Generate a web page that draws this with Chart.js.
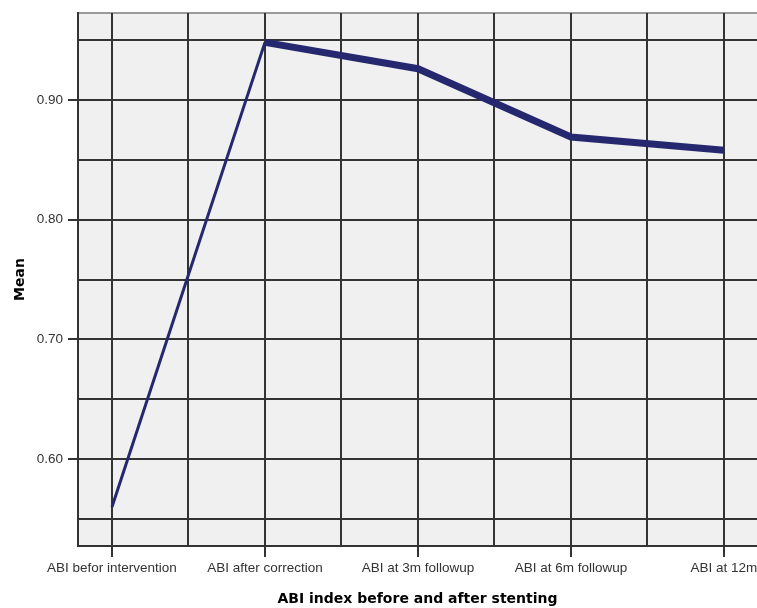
<!DOCTYPE html>
<html>
<head>
<meta charset="utf-8">
<script src="https://cdn.jsdelivr.net/npm/chart.js@4"></script>
<style>
  body { margin: 0; background: #fff; }
  #wrap { width: 757px; height: 608px; }
</style>
</head>
<body>
<div id="wrap"><canvas id="myChart" width="757" height="608"></canvas></div>
<script>
const categories = ['ABI befor intervention', 'ABI after correction', 'ABI at 3m followup', 'ABI at 6m followup', 'ABI at 12m'];
const meanValues = [0.56, 0.948, 0.926, 0.869, 0.858];
const yTickValues = [0.55, 0.60, 0.65, 0.70, 0.75, 0.80, 0.85, 0.90, 0.95];
const yLabelValues = [0.60, 0.70, 0.80, 0.90];
const xGridValues = [0, 0.5, 1, 1.5, 2, 2.5, 3, 3.5, 4];

const gridColor = '#333333';
const tickFont = { family: 'Liberation Sans', size: 13.5 };
const titleFont = { family: 'DejaVu Sans', size: 14, weight: 'bold' };

const plotBackground = {
  id: 'plotBackground',
  beforeDraw(chart) {
    const a = chart.chartArea;
    const c = chart.ctx;
    c.save();
    c.fillStyle = '#f0f0f0';
    c.fillRect(a.left, a.top, a.right - a.left, a.bottom - a.top);
    c.strokeStyle = '#9a9a9a';
    c.lineWidth = 2;
    c.beginPath();
    c.moveTo(a.left, a.top);
    c.lineTo(a.right, a.top);
    c.stroke();
    c.restore();
  }
};

const isLabel = v => yLabelValues.some(l => Math.abs(l - v) < 1e-6);

const ctx = document.getElementById('myChart');

new Chart(ctx, {
  type: 'line',
  data: {
    datasets: [{
      data: meanValues.map((v, i) => ({ x: i, y: v })),
      borderColor: '#26286f',
      borderWidth: 7,
      pointRadius: 0,
      fill: false,
      tension: 0,
      segment: {
        borderWidth: c => c.p0DataIndex === 0 ? 3 : 7
      }
    }]
  },
  options: {
    responsive: false,
    animation: false,
    layout: { padding: { top: 13, right: 0, left: 0, bottom: 0 } },
    plugins: {
      legend: { display: false },
      tooltip: { enabled: false }
    },
    scales: {
      x: {
        type: 'linear',
        min: -0.222,
        max: 4.216,
        afterBuildTicks: s => { s.ticks = xGridValues.map(v => ({ value: v })); },
        afterFit: s => { s.height = 62; s.paddingLeft = 0; s.paddingRight = 0; },
        grid: {
          color: gridColor,
          lineWidth: 2,
          tickLength: 11,
          tickColor: c => Number.isInteger(c.tick.value) ? gridColor : 'rgba(0,0,0,0)'
        },
        border: { color: gridColor, width: 2 },
        ticks: {
          autoSkip: false,
          maxRotation: 0,
          padding: 3,
          color: '#333',
          font: tickFont,
          callback: v => Number.isInteger(v) ? categories[v] : ''
        },
        title: {
          display: true,
          text: 'ABI index before and after stenting',
          color: '#000',
          font: titleFont,
          padding: { top: 6, bottom: 0 }
        }
      },
      y: {
        min: 0.5275,
        max: 0.9725,
        afterBuildTicks: s => { s.ticks = yTickValues.map(v => ({ value: v })); },
        afterFit: s => { s.width = 78; s.paddingTop = 0; s.paddingBottom = 0; },
        grid: {
          color: gridColor,
          lineWidth: 2,
          tickLength: 10,
          tickColor: c => isLabel(c.tick.value) ? gridColor : 'rgba(0,0,0,0)'
        },
        border: { color: gridColor, width: 2 },
        ticks: {
          autoSkip: false,
          padding: 5,
          color: '#333',
          font: tickFont,
          callback: v => isLabel(v) ? v.toFixed(2) : ''
        },
        title: {
          display: true,
          text: 'Mean',
          color: '#000',
          font: titleFont,
          padding: { top: 12, bottom: 0 }
        }
      }
    }
  },
  plugins: [plotBackground]
});
</script>
</body>
</html>
